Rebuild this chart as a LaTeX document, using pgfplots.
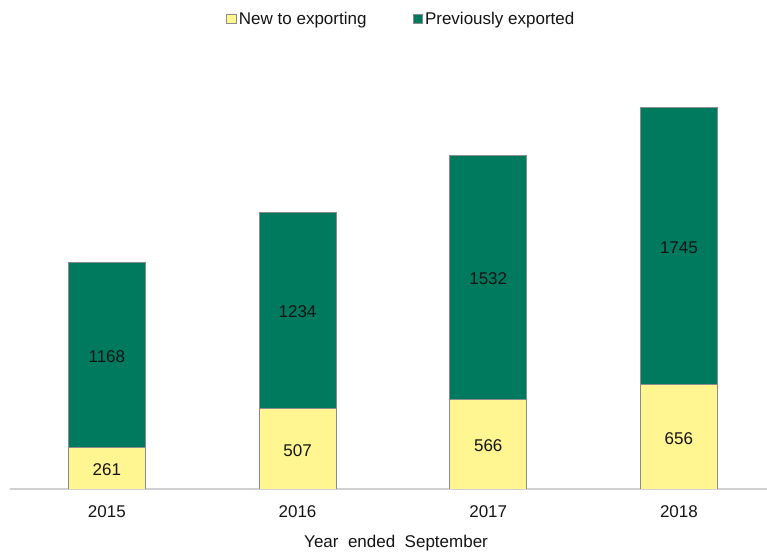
\documentclass[border=0pt]{standalone}
\usepackage{pgfplots}
\pgfplotsset{compat=1.18}
\usepackage{fontspec}
\setmainfont{Liberation Sans}
\definecolor{newyel}{RGB}{255,245,145}
\definecolor{prevgreen}{RGB}{0,122,94}
\definecolor{barline}{RGB}{140,140,140}
\definecolor{txt}{RGB}{20,20,20}
\begin{document}
\begin{tikzpicture}[font=\fontsize{12.75}{15}\selectfont, text=txt]
\useasboundingbox (-7.5pt,-47.25pt) rectangle (567.75pt,366.75pt);
\begin{axis}[
  scale only axis,
  width=567.75pt, height=291.75pt,
  at={(0,0)}, anchor=south west,
  ybar stacked, bar width=57.75pt,
  xmin=-0.508, xmax=3.462, ymin=0, ymax=2450,
  axis y line=none,
  axis x line*=bottom,
  x axis line style={draw=black!18, line width=1.1pt, -},
  xtick={0,1,2,3},
  xticklabels={2015,2016,2017,2018},
  major tick length=0pt,
  xticklabel style={anchor=north, inner sep=0pt, yshift=-12pt},
  xlabel={Year\ \ ended\ \ September},
  xlabel style={at={(axis description cs:0.51,0)}, anchor=center, yshift=-40.5pt},
  /pgf/number format/assume math mode=true,
  /pgf/number format/1000 sep={},
  point meta=explicit,
  nodes near coords,
  every node near coord/.append style={anchor=center, text=txt, yshift=-1.2pt},
  legend style={at={(axis description cs:0.517,1.2082)}, anchor=center, draw=none, fill=none,
    legend columns=2, /tikz/every even column/.append style={column sep=33pt},
    nodes={inner sep=1.5pt}},
  legend image code/.code={\draw[#1, draw=barline] (0pt,-3.6pt) rectangle (7.2pt,3.6pt);},
]
\addplot[fill=newyel, draw=barline, line width=0.7pt] coordinates {(0,261) [261] (1,507) [507] (2,566) [566] (3,656) [656]};
\addplot[fill=prevgreen, draw=barline, line width=0.7pt] coordinates {(0,1168) [1168] (1,1234) [1234] (2,1532) [1532] (3,1745) [1745]};
\legend{New to exporting, Previously exported}
\end{axis}
\end{tikzpicture}
\end{document}
